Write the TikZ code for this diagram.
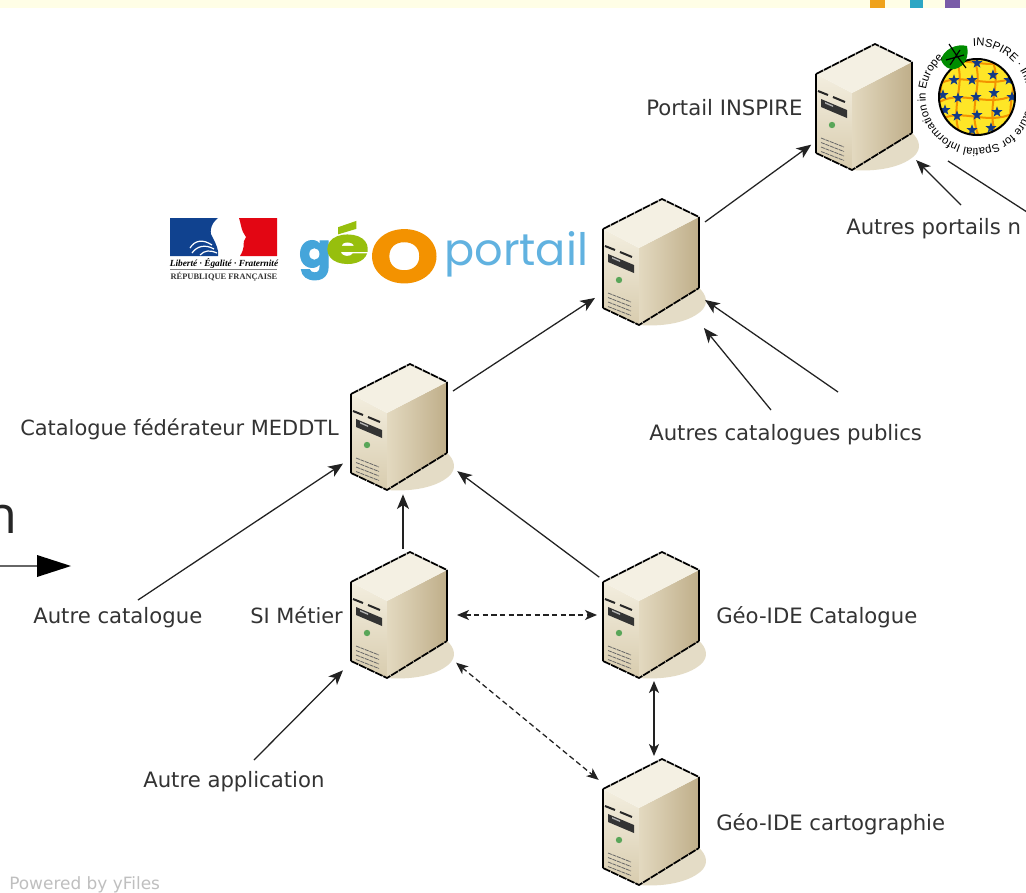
\documentclass[tikz,border=0pt]{standalone}
\usepackage{fontspec}
\setmainfont{DejaVu Sans}
\newfontfamily\libserif{Liberation Serif}
\newfontfamily\libsans{Liberation Sans}
\newfontfamily\popfont[BoldFeatures={FakeBold=2.5}]{Poppins}
\newfontfamily\openfont{Open Sans}
\usetikzlibrary{arrows.meta,calc,shapes.geometric,decorations.text}
\definecolor{lab}{HTML}{333333}
\definecolor{lne}{HTML}{222222}
\definecolor{navy}{HTML}{123A86}
\definecolor{orng}{HTML}{F39200}
\definecolor{gblue}{HTML}{45A5DA}
\definecolor{ggreen}{HTML}{97BF0D}
\definecolor{shad}{HTML}{E4DCC6}
\definecolor{E1}{HTML}{F3EEDF}
\definecolor{E2}{HTML}{D8CCAE}
\definecolor{S1}{HTML}{E3D9C0}
\definecolor{S2}{HTML}{ECE5D2}
\definecolor{S3}{HTML}{BFAE89}
\definecolor{T1}{HTML}{F4F0E3}
\tikzset{
  lbl/.style={anchor=base west,inner sep=0pt,text=lab,font=\fontsize{15.9}{15.9}\selectfont},
  lbls/.style={lbl,font=\fontsize{15.7}{15.7}\selectfont},
  hit/.style={rectangle,minimum width=82.5pt,minimum height=99pt,inner sep=0pt,outer sep=0pt},
  arr/.style={lne,line width=.95pt,-{Stealth[length=11pt,width=9pt,inset=3pt]}},
  darr/.style={lne,line width=.95pt,{Stealth[length=9pt,width=7.5pt,inset=2.5pt]}-{Stealth[length=9pt,width=7.5pt,inset=2.5pt]}},
  dsh/.style={darr,dash pattern=on 4pt off 2.5pt},
  star1/.style={star,star points=5,star point ratio=2.4,fill=navy,inner sep=0pt,minimum size=8.5pt},
  server/.pic={
    \fill[shad] (49,26) .. controls (56,32) and (60,42) .. (50,50) .. controls (38,60) and (15,65) .. (-11,63) -- cycle;
    \shade[top color=E1,bottom color=E2] (-47,-33) -- (-11,-14) -- (-11,63) -- (-47,46) -- cycle;
    \shade[left color=S1,middle color=S2,right color=S3] (-11,-14) -- (49,-45) -- (49,26) -- (-11,63) -- cycle;
    \fill[T1] (-47,-33) -- (12,-63) -- (49,-45) -- (-11,-14) -- cycle;
    \draw[black,line width=1.3pt,dash pattern=on 6pt off .7pt] (-47,-33) -- (12,-63) -- (49,-45);
    \draw[black,line width=1.3pt] (-47,-33) -- (-47,46);
    \draw[black,line width=1.3pt,dash pattern=on 6pt off .7pt] (-47,46) -- (-11,63) -- (49,26);
    \draw[black,line width=1.1pt] (49,-45) -- (49,26);
    \draw[black!85,line width=1.5pt] (-45,-16) -- (-35,-12) (-30,-10) -- (-18,-5);
    \fill[black!80] (-42,-8) -- (-16,3) -- (-16,11) -- (-42,0) -- cycle;
    \fill[white!70!black] (-38,-5) -- (-30,-1.5) -- (-30,0) -- (-38,-3.5) -- cycle;
    \fill[green!30!gray] (-31,18) circle (3.2);
    \foreach \k in {0,1,2,3}{\draw[black!60,line width=.6pt,dash pattern=on 3pt off .6pt] (-42,{31+\k*4.5}) -- (-19,{40+\k*4.5});}
  }
}
\newcommand{\srvat}[3]{\node[hit] (#1) at (#2,#3) {}; \pic at (#1) {server};}
\begin{document}
\begin{tikzpicture}[x=0.75pt,y=-0.75pt]
\useasboundingbox (0,0) rectangle (1026,893);
\clip (0,0) rectangle (1026,893);
\fill[white] (0,0) rectangle (1026,893);
% top strip
\fill[yellow!10!white] (0,0) rectangle (1026,7.5);
\definecolor{tealbar}{HTML}{2CA6C4}
\definecolor{purpbar}{HTML}{7A5CA8}
\definecolor{orgbar}{HTML}{EFA21C}
\fill[orgbar] (870,0) rectangle (885,7.5);
\fill[tealbar] (910,0) rectangle (923,7.5);
\fill[purpbar] (945,0) rectangle (960,7.5);
% servers
\srvat{ins}{863}{107}
\srvat{geo}{650}{262}
\srvat{cat}{398}{427}
\srvat{si}{398}{615}
\srvat{gic}{650}{615}
\srvat{gia}{650}{822}
% labels
\node[lbl] (lins) at (646,115) {Portail INSPIRE};
\node[lbl] (lpor) at (846,234) {Autres portails n};
\node[lbl] (lpub) at (649,440) {Autres catalogues publics};
\node[lbls] (lcat) at (20,435) {Catalogue fédérateur MEDDTL};
\node[lbl] (laca) at (33,623) {Autre catalogue};
\node[lbls] (lsi) at (250,623) {SI Métier};
\node[lbl] (lgic) at (716,623) {Géo-IDE Catalogue};
\node[lbl] (laap) at (143,787) {Autre application};
\node[lbl] (lgia) at (716,830) {Géo-IDE cartographie};
\node[anchor=base west,inner sep=0pt,text=black!25,font=\fontsize{12.7}{12.7}\selectfont] (pow) at (9,889) {Powered by yFiles};
% free ends
\coordinate (c1) at (961,205);
\coordinate (c2) at (1030,214);
\coordinate (c2b) at (948,161);
\coordinate (c3) at (771,410);
\coordinate (c4) at (838,392);
\coordinate (c5) at (138,600);
\coordinate (c6) at (254,760);
% connectors
\draw[arr,shorten >=-3pt] (geo) -- (ins);
\draw[arr] (cat) -- (geo);
\draw[arr,shorten >=-2pt] (c1) -- (ins);
\draw[lne,line width=.95pt] (c2) -- (c2b);
\draw[arr] (c3) -- (geo);
\draw[arr] (c4) -- (geo);
\draw[arr] (c5) -- (cat);
\draw[arr] (c6) -- (si);
\draw[arr] ([xshift=3.75pt]si.north) -- ([xshift=3.75pt,yshift=-1pt]cat.south);
\draw[arr,shorten <=-4pt,shorten >=4pt] (gic) -- (cat);
\draw[dsh,shorten <=3pt,shorten >=-1.5pt] (si) -- (gic);
\draw[dsh,shorten <=3pt,shorten >=-3.5pt] (si) -- (gia);
\draw[darr] ([xshift=3pt]gic.south) -- ([xshift=3pt]gia.north);
% cut-off arrow and letter at the left
\node[anchor=base east,inner sep=0pt,text=black!85,font=\openfont\fontsize{39}{39}\selectfont] (big) at (18,533) {n};
\coordinate (l0) at (-2,566);
\coordinate (l1) at (71,566);
\draw[black!60,line width=.8pt] (l0) -- (40,566);
\fill[black] (37,555) -- (l1) -- (37,577) -- cycle;
% French Republic logo
\definecolor{frblue}{HTML}{10428F}
\definecolor{frred}{HTML}{E30613}
\fill[frblue] (170,218) -- (218,218) .. controls (210,224) and (209,234) .. (213,238) .. controls (216,244) and (219,250) .. (218,256) -- (170,256) -- cycle;
\fill[frred] (239,218) -- (277,218) -- (277,256) -- (240,256) .. controls (245,248) and (243,245) .. (244,241) -- (246,237) -- (243,232) .. controls (241,228) and (241,224) .. (239,218) -- cycle;
\draw[white,line width=.9pt] (190,248) .. controls (195,240) and (203,239) .. (212,245) (192,253) .. controls (197,246) and (205,244) .. (214,249) (200,255) .. controls (205,250) and (210,250) .. (217,253);
\node[inner sep=0pt,font=\libserif\itshape\bfseries\fontsize{7}{7}\selectfont] (lib) at (224,263) {Liberté · Égalité · Fraternité};
\draw[black!50,line width=.5pt] (170,269.5) -- (277,269.5);
\node[inner sep=0pt,text=black!80,font=\libserif\bfseries\fontsize{6.3}{6.3}\selectfont] (rep) at (224,277) {RÉPUBLIQUE FRANÇAISE};
% Geoportail logo
\node[anchor=base west,inner sep=0pt,text=gblue,font=\popfont\bfseries\fontsize{35}{35}\selectfont] (g1) at (299,267) {g};
\node[anchor=base west,inner sep=0pt,text=ggreen,font=\popfont\bfseries\fontsize{37}{37}\selectfont] (g2) at (326,263) {\scalebox{1.4}[1]{é}};
\node[anchor=base west,inner sep=0pt,text=orng,font=\popfont\bfseries] (g3) at (370,282) {\resizebox{51pt}{39pt}{O}};
\node[anchor=base west,inner sep=0pt,text=gblue!85!white,font=\popfont\fontsize{33.5}{33.5}\selectfont] (g4) at (444,265) {portail};
% INSPIRE logo
\begin{scope}
\clip (977,97) circle (38);
\fill[yellow!85!orange!85!white] (977,97) circle (38);
\foreach \d in {-36,-18,0,18,36}{
  \draw[orng,line width=1.5pt] (977+\d-6,55) .. controls (977+\d+12,80) and (977+\d-14,110) .. (977+\d+4,140);
  \draw[orng,line width=1.5pt] (935,97+\d+8) .. controls (960,97+\d-12) and (990,97+\d+16) .. (1020,97+\d-6);
}
\foreach \a/\b in {977/63,954/80,972/80,993/75,1009/80,958/98,976/97,994/93,1012/97,943/95,957/116,977/115,997/112,945/110,972/130,991/128}{
  \node[star1] at (\a,\b) {};
}
\end{scope}
\draw[black,line width=1.5pt] (977,97) circle (38);
\fill[green!55!black] (941,60) .. controls (943,50) and (956,43) .. (967,46) .. controls (969,56) and (966,66) .. (955,69) .. controls (949,70) and (944,67) .. (941,60) -- cycle;
\draw[black,line width=.9pt] (949,44) -- (957,56) -- (966,68) (946,60) -- (964,55) (950,65) -- (960,50);
\path[decorate,decoration={text along path,text align={left},text={|\libsans\fontsize{8.5}{8.5}\selectfont|INSPIRE · Infrastructure for Spatial Information in Europe}}]
  (973,46.2) arc[start angle=-94,end angle=240,radius=51];
\end{tikzpicture}
\end{document}
